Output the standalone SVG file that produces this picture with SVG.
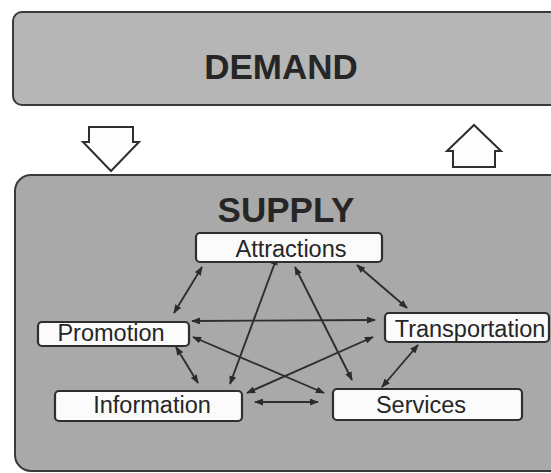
<svg xmlns="http://www.w3.org/2000/svg" width="551" height="473" viewBox="0 0 551 473">
<defs>
<marker id="ah" viewBox="0 0 10 10" refX="9" refY="5" markerWidth="9" markerHeight="7" markerUnits="userSpaceOnUse" orient="auto-start-reverse" preserveAspectRatio="none">
<path d="M0,0 L10,5 L0,10 z" fill="#2b2b2b"/>
</marker>
</defs>
<style>
.panel{stroke:#3a3a3a;stroke-width:2}
.title{font-family:"Liberation Sans",Arial,sans-serif;font-weight:bold;font-size:35px;fill:#262626;text-anchor:middle}
.box{fill:#fbfbfb;stroke:#2e2e2e;stroke-width:2.2}
.lbl{font-family:"Liberation Sans",Arial,sans-serif;font-size:23.5px;fill:#262626;text-anchor:middle}
.blk{fill:#fdfdfd;stroke:#2e2e2e;stroke-width:2;stroke-linejoin:miter}
.con{stroke:#2e2e2e;stroke-width:1.9;fill:none;marker-start:url(#ah);marker-end:url(#ah)}
</style>
<rect x="0" y="0" width="551" height="473" fill="#ffffff"/>
<g id="demand">
<rect class="panel" x="13" y="12" width="560" height="93" rx="9" fill="#b6b6b6"/>
<text class="title" x="281" y="79">DEMAND</text>
</g>
<g id="arrow-down">
<polygon class="blk" points="89,127 133,127 133,142 139,142 111,171 83,142 89,142"/>
</g>
<g id="arrow-up">
<polygon class="blk" points="453,167 495,167 495,151 501,151 474,125 447,151 453,151"/>
</g>
<g id="supply">
<rect class="panel" x="15" y="175" width="570" height="296" rx="16" fill="#a9a9a9"/>
<text class="title" x="286" y="222">SUPPLY</text>
</g>
<g id="connectors">
<line class="con" x1="202" y1="267" x2="174" y2="313"/>
<line class="con" x1="176" y1="347" x2="198" y2="383"/>
<line class="con" x1="277" y1="257" x2="230" y2="384"/>
<line class="con" x1="192" y1="321" x2="375" y2="320"/>
<line class="con" x1="193" y1="337" x2="324" y2="393"/>
<line class="con" x1="247" y1="393" x2="373" y2="337"/>
<line class="con" x1="255" y1="402" x2="318" y2="402"/>
<line class="con" x1="295" y1="267" x2="352" y2="380"/>
<line class="con" x1="357" y1="265" x2="407" y2="308"/>
<line class="con" x1="418" y1="345" x2="382" y2="387"/>
</g>
<g id="attractions">
<rect class="box" x="196" y="233" width="186" height="29" rx="4"/>
<text class="lbl" x="291" y="257">Attractions</text>
</g>
<g id="promotion">
<rect class="box" x="38" y="322" width="151" height="24" rx="4"/>
<text class="lbl" x="111" y="341">Promotion</text>
</g>
<g id="transportation">
<rect class="box" x="385" y="313" width="164" height="29" rx="4"/>
<text class="lbl" x="470" y="337">Transportation</text>
</g>
<g id="information">
<rect class="box" x="55" y="391" width="187" height="30" rx="4"/>
<text class="lbl" x="152" y="413">Information</text>
</g>
<g id="services">
<rect class="box" x="333" y="389" width="189" height="31" rx="4"/>
<text class="lbl" x="421" y="413">Services</text>
</g>
</svg>
